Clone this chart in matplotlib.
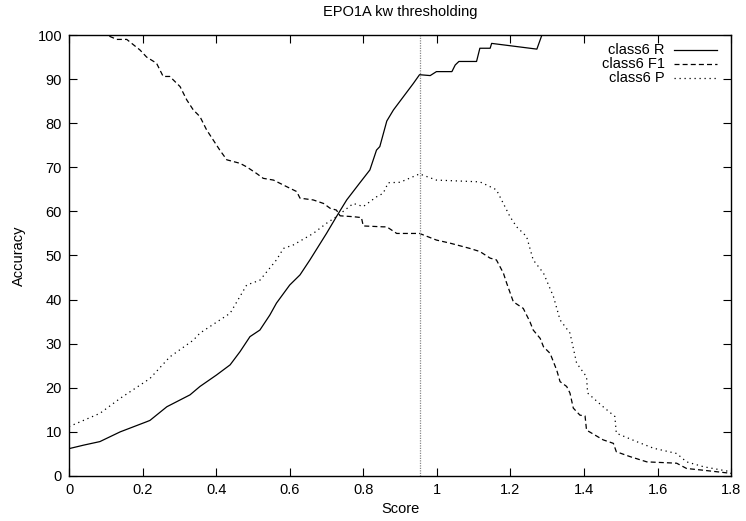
import matplotlib
matplotlib.use("Agg")
import matplotlib.pyplot as plt

plt.rcParams['font.family'] = ['Liberation Sans', 'DejaVu Sans']

# values
r_score = [0, 0.04, 0.084, 0.139, 0.211, 0.22, 0.266, 0.329, 0.356, 0.401, 0.438, 0.465, 0.492,
           0.519, 0.546, 0.564, 0.6, 0.628, 0.655, 0.7, 0.727, 0.755, 0.79, 0.818, 0.836,
           0.845, 0.864, 0.882, 0.909, 0.936, 0.953, 0.982, 0.999, 1.041, 1.05, 1.06, 1.108,
           1.117, 1.145, 1.149, 1.272, 1.29]
r_vals = [6.2, 7.0, 7.8, 10.0, 12.3, 12.6, 15.7, 18.4, 20.3, 22.9, 25.2, 28.2, 31.6,
          33.1, 36.5, 39.2, 43.3, 45.6, 49, 55, 58.8, 62.6, 66.4, 69.4, 73.9,
          74.7, 80.5, 83, 86, 89, 91, 90.8, 91.7, 91.7, 93.2, 94.0, 94.0,
          97.0, 97.0, 98.1, 96.8, 101]

f1_score = [0, 0.102, 0.13, 0.157, 0.193, 0.211, 0.238, 0.256, 0.274, 0.302, 0.32, 0.338,
            0.356, 0.374, 0.392, 0.41, 0.429, 0.465, 0.483, 0.51, 0.528, 0.556, 0.592,
            0.619, 0.628, 0.664, 0.692, 0.71, 0.727, 0.737, 0.773, 0.795, 0.8, 0.854,
            0.864, 0.891, 0.953, 0.999, 1.036, 1.09, 1.117, 1.145, 1.162, 1.181, 1.19,
            1.208, 1.235, 1.253, 1.262, 1.281, 1.29, 1.308, 1.326, 1.335, 1.353, 1.362,
            1.371, 1.389, 1.403, 1.407, 1.452, 1.48, 1.488, 1.525, 1.571, 1.652, 1.679,
            1.725, 1.8]
f1_vals = [100, 100, 99, 99, 96.6, 95, 93.6, 90.6, 90.6, 88.3, 85.3, 83,
           81.5, 78.5, 76.2, 73.9, 71.7, 70.9, 70.1, 68.6, 67.5, 67.1, 65.6,
           64.5, 63, 62.6, 61.8, 60.7, 60.3, 59, 58.8, 58.6, 56.7, 56.5,
           56.5, 55, 55, 53.5, 52.8, 51.6, 50.9, 49.4, 49, 46, 43.7,
           39.5, 38, 35, 33.1, 31.2, 29.3, 27.8, 24, 21.4, 20.3, 18.8,
           15.4, 13.8, 13.6, 10.4, 8.2, 7.4, 5.5, 4.4, 3.2, 2.9, 1.7,
           1.3, 0.6]

p_score = [0, 0.084, 0.139, 0.22, 0.274, 0.338, 0.356, 0.438, 0.483, 0.519, 0.564, 0.583,
           0.61, 0.664, 0.7, 0.727, 0.773, 0.8, 0.836, 0.854, 0.868, 0.9, 0.953, 0.999,
           1.117, 1.145, 1.162, 1.199, 1.217, 1.244, 1.262, 1.29, 1.317, 1.335, 1.362,
           1.38, 1.407, 1.41, 1.452, 1.484, 1.488, 1.543, 1.589, 1.652, 1.679, 1.725, 1.797]
p_vals = [11.2, 14.2, 17.6, 22.1, 27, 30.8, 32.4, 36.9, 43.3, 44.4, 49, 51.6,
          52.4, 55, 57.3, 58.8, 61.8, 61.1, 63.3, 64.1, 66.5, 66.6, 68.5, 67.1,
          66.7, 65.6, 64.9, 58.8, 56.5, 54.3, 49, 46, 40.7, 35.4, 32.4,
          25.6, 22.5, 18.8, 15.7, 13.5, 9.7, 7.8, 6.3, 5.1, 3.2, 2.1, 1.0]

threshold = 0.953

labels = ['class6 R', 'class6 F1', 'class6 P']
styles = ['-', (0, (4, 2.5)), (0, (1, 3))]

fig = plt.figure(figsize=(7.46, 5.21), dpi=100)
ax = fig.add_axes([0.0925, 0.0864, 0.8875, 0.8464])

series = [(r_score, r_vals), (f1_score, f1_vals), (p_score, p_vals)]
for (xs, ys), ls in zip(series, styles):
    ax.plot(xs, ys, color='black', lw=0.9, linestyle=ls)

ax.axvline(threshold, color='#888888', lw=0.9, linestyle=(0, (1, 1)))

ax.set_xlim(0, 1.8)
ax.set_ylim(0, 100)
ax.set_xticks([0, 0.2, 0.4, 0.6, 0.8, 1, 1.2, 1.4, 1.6, 1.8])
ax.set_xticklabels(['0', '0.2', '0.4', '0.6', '0.8', '1', '1.2', '1.4', '1.6', '1.8'])
ax.set_yticks(range(0, 101, 10))
ax.tick_params(direction='in', top=True, right=True, length=6, width=0.8,
               labelsize=10.5, pad=5)
for s in ax.spines.values():
    s.set_linewidth(1.0)

ax.set_xlabel('Score', fontsize=10.5, labelpad=4)
ax.set_ylabel('Accuracy', fontsize=10.5, labelpad=8)
ax.set_title('EPO1A kw thresholding', fontsize=10.5, pad=14)

# gnuplot style key: right aligned labels, sample to the right
for i, (lab, ls) in enumerate(zip(labels, styles)):
    yk = 0.966 - i * 0.032
    ax.text(0.900, yk, lab, transform=ax.transAxes, ha='right', va='center', fontsize=10.5)
    ax.plot([0.914, 0.979], [yk, yk], transform=ax.transAxes, color='black',
            lw=0.9, linestyle=ls)

fig.savefig('out.png', dpi=100)
